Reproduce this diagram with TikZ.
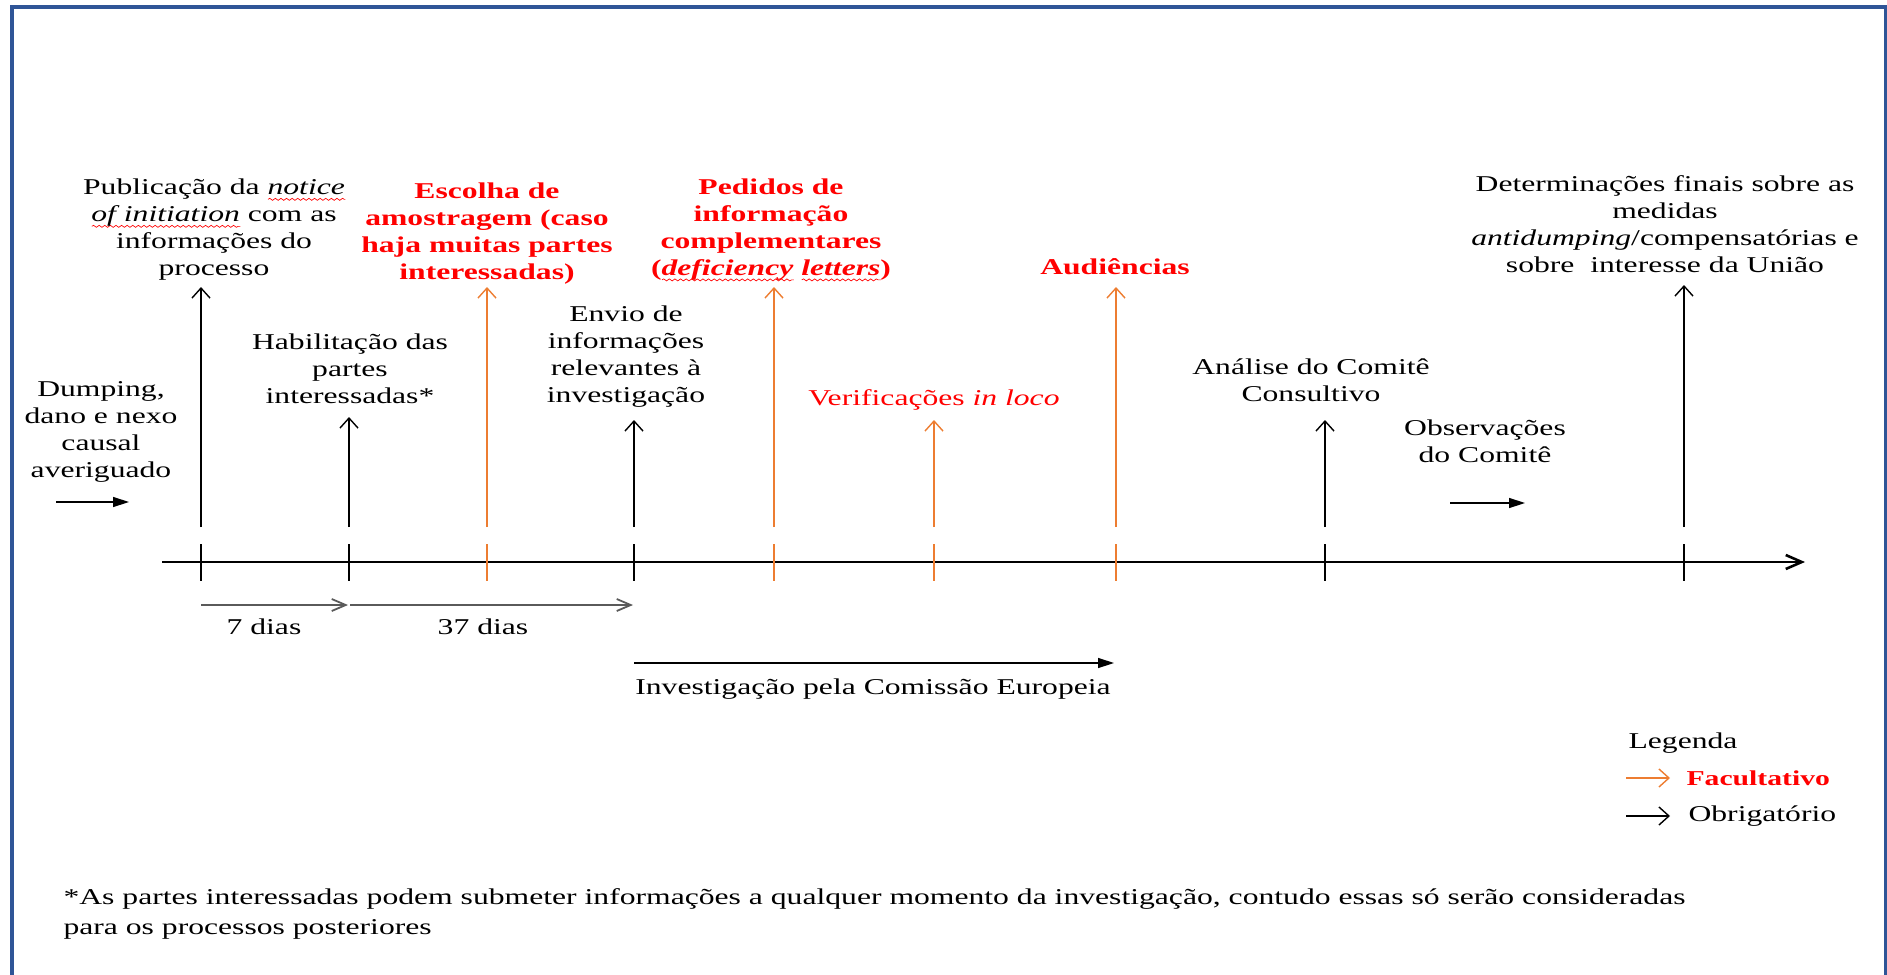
\documentclass[tikz,border=0pt]{standalone}
\usepackage{fontspec}
\setmainfont{Liberation Serif}
\usetikzlibrary{arrows.meta,decorations.pathmorphing}
\definecolor{frameblue}{RGB}{47,85,151}
\definecolor{optorange}{RGB}{237,125,49}
\definecolor{optred}{RGB}{255,0,0}
\definecolor{durgray}{RGB}{90,90,90}
\newsavebox\wavebox
\newcommand\spellwave[1]{\leavevmode\sbox\wavebox{#1}\rlap{\tikz[baseline=0pt]{\pgftransformreset\path (0pt,0pt) (\wd\wavebox,0pt); \draw[optred, line width=0.3pt, decorate, decoration={snake, amplitude=0.5pt, segment length=2pt}] (0pt,-2.2pt) -- (\wd\wavebox,-2.2pt);}}\usebox\wavebox}
\tikzset{
  lbl/.style={font=\fontsize{11.3}{13.5}\selectfont, align=center, inner sep=0pt, xscale=1.4, transform shape},
  optlbl/.style={lbl, text=optred, font=\fontsize{11.3}{13.5}\selectfont\bfseries},
  mandarrow/.style={draw=black, line width=0.7pt, -{Straight Barb[length=5pt,width=9pt]}},
  optarrow/.style={draw=optorange, line width=0.7pt, -{Straight Barb[length=5pt,width=9pt]}},
  mandtick/.style={draw=black, line width=0.7pt},
  opttick/.style={draw=optorange, line width=0.7pt},
  fillarrow/.style={draw=black, line width=0.7pt, -{Triangle[length=8pt,width=5pt]}},
  durarrow/.style={draw=durgray, line width=0.9pt, -{Straight Barb[length=7pt,width=6pt]}},
  axisarrow/.style={draw=black, line width=1.3pt, -{Straight Barb[length=8pt,width=7pt]}},
}
\begin{document}
\begin{tikzpicture}[x=0.5pt,y=-0.5pt]
\useasboundingbox (0,0) rectangle (1887,975);
% frame
\draw[frameblue, line width=2pt] (11.5,975) -- (11.5,6.5) -- (1885.5,6.5) -- (1885.5,975);

% axis
\coordinate (axs) at (162,562);
\coordinate (axe) at (1805,562);
\draw[axisarrow] (axs) -- (axe);

% event coordinates: bottom (b), top (t), tick ends (u,d)
\foreach \nm/\x/\y/\st in {pub/201/287/mand, hab/349/417/mand, esc/487/287/opt, env/634/420/mand, ped/774/287/opt, ver/934/420/opt, aud/1116/287/opt, ana/1325/420/mand, det/1684/285/mand}{
  \coordinate (\nm b) at (\x,527);
  \coordinate (\nm t) at (\x,\y);
  \coordinate (\nm u) at (\x,544);
  \coordinate (\nm d) at (\x,581);
  \draw[\st arrow] (\nm b) -- (\nm t);
  \draw[\st tick] (\nm u) -- (\nm d);
}

% labels
\node[lbl] (pubL) at (214,230) {Publicação da \spellwave{\textit{notice}}\\\spellwave{\textit{of initiation}} com as\\informações do\\processo};
\node[lbl] (habL) at (350,369) {Habilitação das\\partes\\interessadas*};
\node[optlbl] (escL) at (487,234) {Escolha de\\amostragem (caso\\haja muitas partes\\interessadas)};
\node[lbl] (envL) at (626,357) {Envio de\\informações\\relevantes à\\investigação};
\node[optlbl] (pedL) at (771,230) {Pedidos de\\informação\\complementares\\(\spellwave{\textit{deficiency}} \spellwave{\textit{letters}})};
\node[lbl, text=optred] (verL) at (934,400) {Verificações \textit{in loco}};
\node[optlbl] (audL) at (1115,267) {Audiências};
\node[lbl] (anaL) at (1311,380) {Análise do Comitê\\Consultivo};
\node[lbl] (detL) at (1665,224) {Determinações finais sobre as\\medidas\\\textit{antidumping}/compensatórias e\\sobre\ \ interesse da União};
\node[lbl] (dumL) at (101,432) {Dumping,\\dano e nexo\\causal\\averiguado};
\node[lbl] (obsL) at (1485,441) {Observações\\do Comitê};

% small filled arrows
\coordinate (dumA) at (56,502);
\coordinate (dumB) at (129,502);
\draw[fillarrow] (dumA) -- (dumB);
\coordinate (obsA) at (1450,503);
\coordinate (obsB) at (1525,503);
\draw[fillarrow] (obsA) -- (obsB);

% durations
\coordinate (d7a) at (201,605);
\coordinate (d7b) at (348,605);
\coordinate (d37a) at (350,605);
\coordinate (d37b) at (633,605);
\draw[durarrow] (d7a) -- (d7b);
\draw[durarrow] (d37a) -- (d37b);
\node[lbl] (d7L) at (264,627) {7 dias};
\node[lbl] (d37L) at (483,627) {37 dias};

% investigation
\coordinate (invA) at (634,663);
\coordinate (invB) at (1114,663);
\draw[fillarrow] (invA) -- (invB);
\node[lbl] (invL) at (873,689) {Investigação pela Comissão Europeia};

% legend
\node[lbl] (legT) at (1683,743) {Legenda};
\coordinate (lgoA) at (1626,778);
\coordinate (lgoB) at (1670,778);
\draw[optarrow] (lgoA) -- (lgoB);
\node[optlbl, anchor=west, font=\fontsize{10.6}{13}\selectfont\bfseries] (lgoL) at (1686,778) {Facultativo};
\coordinate (lgmA) at (1626,816);
\coordinate (lgmB) at (1670,816);
\draw[mandarrow] (lgmA) -- (lgmB);
\node[lbl, anchor=west] (lgmL) at (1688,816) {Obrigatório};

% footnote
\node[lbl, anchor=west, align=left, font=\fontsize{11.3}{15}\selectfont] (foot) at (63,914) {*As partes interessadas podem submeter informações a qualquer momento da investigação, contudo essas só serão consideradas\\para os processos posteriores};
\end{tikzpicture}
\end{document}
